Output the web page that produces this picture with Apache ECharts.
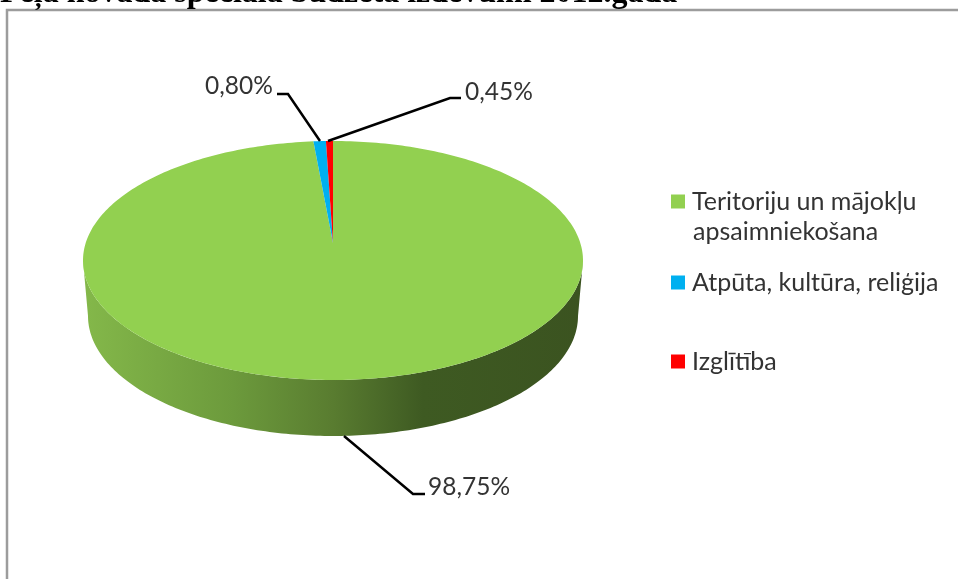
<!DOCTYPE html>
<html>
<head>
<meta charset="utf-8">
<title>Peļa novada speciālā budžeta izdevumi</title>
<script src="https://cdn.jsdelivr.net/npm/echarts@6/dist/echarts.min.js"></script>
<style>
html, body { margin: 0; padding: 0; background: #fff; overflow: hidden; }
#chart { width: 958px; height: 579px; }
</style>
</head>
<body>
<div id="chart"></div>
<script>
var titleText = 'Peļa novada speciālā budžeta izdevumi 2012.gadā';
var categories = ['Teritoriju un mājokļu', 'Atpūta, kultūra, reliģija', 'Izglītība'];
var categorySecondLine = 'apsaimniekošana';
var seriesValues = [98.75, 0.80, 0.45];
var valueLabels = ['98,75%', '0,80%', '0,45%'];
var colors = ['#92d050', '#00b0f0', '#ff0000'];

// ellipse of the pie's top face, the apex sits above its centre like in the excel picture
var pie = { cx: 333, cy: 260.5, rx: 250, ry: 119.5, apexY: 243 };
var rim = { cx: 333, cy: 316, rx: 245, ry: 120 };
var leaders = [
    [[344, 436], [413, 494], [425, 494]],
    [[320, 141], [288, 94], [277, 94]],
    [[328, 141], [450, 98], [461, 98]]
];
var labelPos = [[428, 487], [205, 86], [465, 92]];

var total = seriesValues.reduce(function (a, b) { return a + b; }, 0);

function onEllipse(e, deg) {
    // 0 deg is 12 o'clock, going clockwise
    var r = deg * Math.PI / 180;
    return [e.cx + e.rx * Math.sin(r), e.cy - e.ry * Math.cos(r)];
}

function arcPoints(e, from, to) {
    var pts = [];
    var steps = Math.max(2, Math.ceil(Math.abs(to - from)));
    for (var i = 0; i <= steps; i++) {
        pts.push(onEllipse(e, from + (to - from) * i / steps));
    }
    return pts;
}

function sidePoints() {
    return arcPoints(pie, 270, 90).concat(arcPoints(rim, 90, 270));
}

function renderSlice(index) {
    return function (params, api) {
        var start = 0;
        for (var i = 0; i < index; i++) {
            start += seriesValues[i] / total * 360;
        }
        var end = start + api.value(0) / total * 360;
        var children = [];
        if (index === 0) {
            children.push({
                type: 'polygon',
                shape: { points: sidePoints() },
                style: {
                    fill: new echarts.graphic.LinearGradient(0, 0, 1, 0, [
                        { offset: 0, color: '#84b84a' },
                        { offset: 0.3, color: '#6c9a3c' },
                        { offset: 0.5, color: '#597c30' },
                        { offset: 0.68, color: '#3e5a22' },
                        { offset: 1, color: '#3b5320' }
                    ])
                }
            });
        }
        children.push({
            type: 'polygon',
            shape: { points: [[pie.cx, pie.apexY]].concat(arcPoints(pie, start, end)) },
            style: { fill: colors[index] }
        });
        children.push({
            type: 'polyline',
            shape: { points: leaders[index] },
            style: { stroke: '#000', lineWidth: 2.5, fill: 'none' }
        });
        children.push({
            type: 'text',
            style: {
                x: labelPos[index][0],
                y: labelPos[index][1],
                text: valueLabels[index],
                fill: '#333',
                font: '24.5px Lato',
                verticalAlign: 'middle'
            }
        });
        return { type: 'group', children: children };
    };
}

function legendFor(name, top) {
    return {
        data: [name],
        left: 671,
        top: top,
        padding: 0,
        icon: 'rect',
        itemWidth: 14,
        itemHeight: 14,
        selectedMode: false,
        textStyle: { fontFamily: 'Lato', fontSize: 25, color: '#333', padding: [0, 0, 0, 2] }
    };
}

var myChart = echarts.init(document.getElementById('chart'));

var option = {
    animation: false,
    backgroundColor: '#fff',
    title: {
        text: titleText,
        left: 0,
        top: -22,
        padding: 0,
        textStyle: { fontFamily: 'Liberation Serif', fontSize: 32, fontWeight: 'bold', color: '#000' }
    },
    legend: [
        legendFor(categories[0], 189),
        legendFor(categories[1], 270),
        legendFor(categories[2], 349)
    ],
    graphic: [
        {
            type: 'rect',
            shape: { x: 7, y: 10, width: 1000, height: 700 },
            style: { fill: 'none', stroke: '#9c9c9c', lineWidth: 2.5 },
            z: -1
        },
        {
            type: 'text',
            left: 693,
            top: 219.5,
            style: { text: categorySecondLine, font: '25px Lato', fill: '#333' }
        }
    ],
    series: categories.map(function (name, i) {
        return {
            type: 'custom',
            name: name,
            coordinateSystem: 'none',
            silent: true,
            itemStyle: { color: colors[i] },
            data: [[seriesValues[i]]],
            renderItem: renderSlice(i)
        };
    })
};

myChart.setOption(option);
</script>
</body>
</html>
